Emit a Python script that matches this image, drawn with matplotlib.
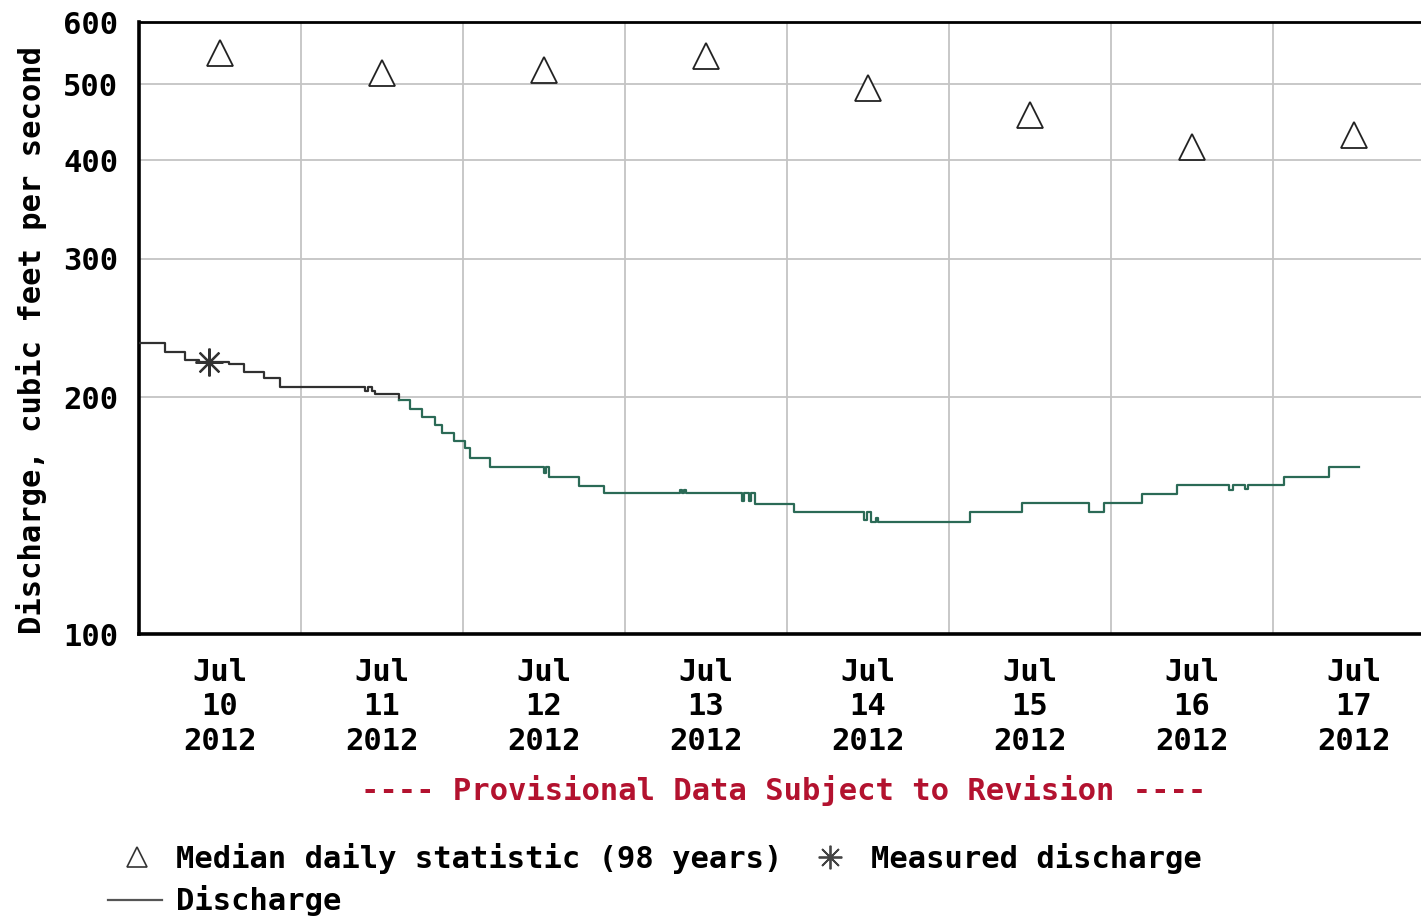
import numpy as np
import matplotlib
matplotlib.use("Agg")
import matplotlib.pyplot as plt
import matplotlib.dates as mdates
from matplotlib.lines import Line2D

# ---- data -------------------------------------------------------------
start = np.datetime64("2012-07-10T00:00")

# Median daily statistic (98 years), one value per day, plotted at noon
median_days = ["2012-07-10", "2012-07-11", "2012-07-12", "2012-07-13",
               "2012-07-14", "2012-07-15", "2012-07-16", "2012-07-17"]
median_cfs = [548, 517, 521, 543, 494, 457, 416, 431]

# Field measurement
measured_time = ["2012-07-10T10:20"]
measured_cfs = [221.7]

# Instantaneous discharge (step changes), hours after Jul 10 00:00
step_hours = [0.0, 3.85, 6.8, 8.9, 13.3, 15.6, 18.5, 20.9,
              33.5, 33.9, 34.5, 35.0, 38.5, 40.1, 41.9, 43.9, 44.9, 46.7,
              48.3, 49.0, 52.0, 60.0, 60.3, 60.7, 65.2, 68.9,
              80.1, 80.5, 80.8, 81.1, 89.3, 89.6, 90.3, 90.6, 91.3, 97.0,
              107.4, 107.8, 108.4, 109.2, 109.5, 123.1, 130.8, 140.7, 143.0,
              148.6, 153.8, 161.5, 162.0, 163.8, 164.3, 169.6, 176.3, 180.7]
step_cfs = [234.5, 228.5, 223.0, 221.5, 220.2, 215.1, 211.4, 206.3,
            203.5, 206.3, 203.5, 201.9, 198.4, 193.1, 188.9, 184.5, 180.3, 176.1,
            172.2, 167.3, 163.2, 160.0, 163.2, 158.2, 154.3, 151.0,
            152.5, 151.0, 152.5, 151.0, 147.5, 151.0, 147.5, 151.0, 146.3, 143.0,
            139.5, 143.0, 138.8, 140.5, 138.8, 143.0, 146.6, 143.0, 146.6,
            150.6, 154.7, 152.5, 154.7, 153.0, 154.7, 158.2, 162.9, 162.9]

y_ticks = [100, 200, 300, 400, 500, 600]
tick_days = median_days

# ---- figure -------------------------------------------------------------
W, H = 1421, 917
fig = plt.figure(figsize=(W / 100, H / 100), dpi=100)
fig.patch.set_facecolor("white")

FONT = "DejaVu Sans Mono"
FS = 22


def fx(x):
    return x / W


def fy(y):
    return 1 - y / H


ax = fig.add_axes([fx(139), fy(634), 1296 / W, 612 / H])

t_med = np.array(median_days, dtype="datetime64[m]") + np.timedelta64(12 * 60, "m")
t_meas = np.array(measured_time, dtype="datetime64[m]")
t_step = start + (np.array(step_hours) * 60).round().astype("timedelta64[m]")

# discharge line: approved (dark) then provisional (green)
hrs = np.array(step_hours)
split = np.searchsorted(hrs, 38.5)
ax.plot(t_step[:split + 1], step_cfs[:split + 1], drawstyle="steps-post",
        color="#303030", lw=1.6, zorder=3)
ax.plot(t_step[split:], step_cfs[split:], drawstyle="steps-post",
        color="#2b6a56", lw=1.6, zorder=3)

ax.plot(t_med, median_cfs, linestyle="none", marker="^", ms=19,
        mfc="white", mec="#222222", mew=1.3, zorder=4)
ax.plot(t_meas, measured_cfs, linestyle="none", marker=(8, 2, 0), ms=20,
        color="#333333", mew=1.6, zorder=5)

ax.set_yscale("log")
ax.set_ylim(100, 600)
ax.set_xlim(start, start + np.timedelta64(8, "D"))

ax.yaxis.set_major_locator(matplotlib.ticker.FixedLocator(y_ticks))
ax.yaxis.set_minor_locator(matplotlib.ticker.NullLocator())
ax.yaxis.set_major_formatter(matplotlib.ticker.FixedFormatter([str(v) for v in y_ticks]))

noon = np.array(tick_days, dtype="datetime64[m]") + np.timedelta64(12 * 60, "m")
ax.set_xticks(mdates.date2num(noon))
ax.set_xticklabels(["Jul\n%d\n2012" % int(d[-2:]) for d in tick_days],
                   fontfamily=FONT, fontweight="bold", fontsize=FS,
                   linespacing=1.24)
midnights = np.array(tick_days[1:], dtype="datetime64[m]")
ax.set_xticks(mdates.date2num(midnights), minor=True)

for lab in ax.get_yticklabels():
    lab.set_fontfamily(FONT)
    lab.set_fontweight("bold")
    lab.set_fontsize(FS)

ax.tick_params(axis="both", which="both", length=0)
ax.tick_params(axis="x", which="major", pad=17)
ax.tick_params(axis="y", pad=15)

ax.grid(True, axis="y", which="major", color="#c4c4c4", lw=1.3)
ax.grid(True, axis="x", which="minor", color="#c4c4c4", lw=1.3)
ax.grid(False, axis="x", which="major")
ax.set_axisbelow(True)

for side in ("left", "bottom"):
    ax.spines[side].set_linewidth(2.6)
ax.spines["top"].set_linewidth(2.0)
ax.spines["right"].set_visible(False)

fig.text(fx(32), fy(340), "Discharge, cubic feet per second", rotation=90,
         ha="center", va="center", fontfamily=FONT, fontweight="bold",
         fontsize=FS)

fig.text(fx(784), fy(791), "---- Provisional Data Subject to Revision ----",
         ha="center", va="center", fontfamily=FONT, fontweight="bold",
         fontsize=FS, color="#b3122f")

# legend
fig.add_artist(Line2D([fx(137)], [fy(857)], marker="^", ms=15, mfc="white",
                      mec="#333333", mew=1.2, linestyle="none"))
fig.text(fx(176), fy(858), "Median daily statistic (98 years)",
         ha="left", va="center", fontfamily=FONT, fontweight="bold", fontsize=FS)
fig.add_artist(Line2D([fx(830)], [fy(857)], marker=(8, 2, 0), ms=17,
                      color="#444444", mew=1.3, linestyle="none"))
fig.text(fx(871), fy(858), "Measured discharge",
         ha="left", va="center", fontfamily=FONT, fontweight="bold", fontsize=FS)
fig.add_artist(Line2D([fx(108), fx(162)], [fy(900), fy(900)],
                      color="#555555", lw=1.6))
fig.text(fx(176), fy(900), "Discharge",
         ha="left", va="center", fontfamily=FONT, fontweight="bold", fontsize=FS)

fig.savefig("out.png", dpi=100, facecolor="white")
